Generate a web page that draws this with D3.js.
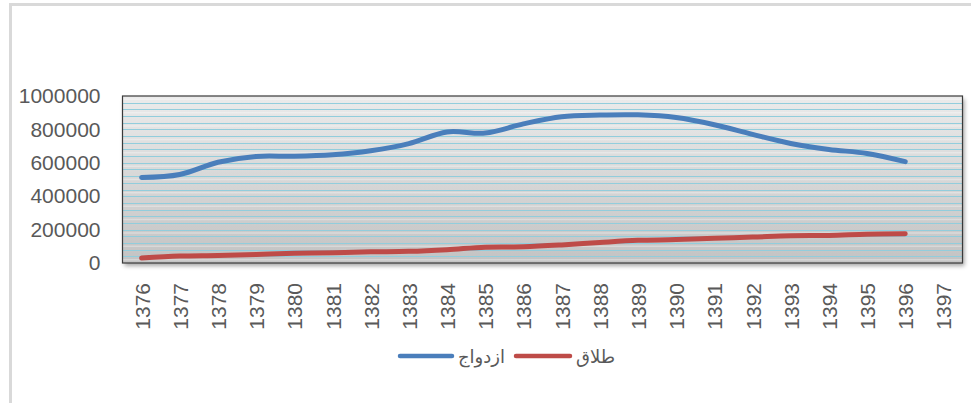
<!DOCTYPE html>
<html>
<head>
<meta charset="utf-8">
<script src="https://cdn.jsdelivr.net/npm/d3@7"></script>
<style>
  body { margin: 0; background: #fff; }
  svg text { font-family: "Liberation Sans", "DejaVu Sans", sans-serif; fill: #595959; }
</style>
</head>
<body>
<div id="chart"></div>
<script>
// chart data
const years = ["1376","1377","1378","1379","1380","1381","1382","1383","1384","1385","1386",
               "1387","1388","1389","1390","1391","1392","1393","1394","1395","1396","1397"];
const marriage = [512000, 530000, 603000, 638000, 639000, 648000, 672000, 715000, 785000, 778000, 833000,
                  876000, 886000, 887000, 871000, 828000, 770000, 716000, 680000, 656000, 607000];
const divorce = [30000, 42000, 45000, 51000, 58000, 62000, 67000, 70000, 80000, 95000, 97000,
                 108000, 123000, 136000, 140000, 148000, 155000, 163000, 165000, 172000, 175000];
const yTicks = [0, 200000, 400000, 600000, 800000, 1000000];
const legendLabels = ["ازدواج", "طلاق"];

const width = 971, height = 403;
const plot = { left: 122.5, right: 962.5, top: 96, bottom: 263 };
const blue = "#4a7ebb", red = "#be4b48";

const svg = d3.select("#chart")
  .append("svg")
  .attr("width", width)
  .attr("height", height);

// outer chart border
svg.append("rect")
  .attr("x", 10.5).attr("y", 4.5)
  .attr("width", 980).attr("height", 420)
  .style("fill", "none")
  .style("stroke", "#d9d9d9")
  .style("stroke-width", "3px");

const defs = svg.append("defs");
const grad = defs.append("linearGradient")
  .attr("id", "plotBg").attr("x1", 0).attr("y1", 0).attr("x2", 0).attr("y2", 1);
grad.append("stop").attr("offset", "0%").attr("stop-color", "#ebebeb");
grad.append("stop").attr("offset", "100%").attr("stop-color", "#c3c3c3");

const shadow = defs.append("filter").attr("id", "shadow")
  .attr("x", "-5%").attr("y", "-5%").attr("width", "110%").attr("height", "120%");
shadow.append("feDropShadow")
  .attr("dx", 2).attr("dy", 3).attr("stdDeviation", 2)
  .attr("flood-color", "#000").attr("flood-opacity", 0.35);

const x = d3.scalePoint()
  .domain(years)
  .range([plot.left, plot.right])
  .padding(0.5);

const y = d3.scaleLinear()
  .domain([0, 1000000])
  .range([plot.bottom, plot.top]);

// plot area
svg.append("rect")
  .attr("x", plot.left).attr("y", plot.top)
  .attr("width", plot.right - plot.left)
  .attr("height", plot.bottom - plot.top)
  .style("fill", "url(#plotBg)")
  .attr("filter", "url(#shadow)");

// texture stripes + minor gridlines every 40000
const minor = d3.range(40000, 1000000, 40000);
svg.append("g")
  .selectAll("line")
  .data(d3.range(20000, 1000000, 80000))
  .join("line")
  .attr("x1", plot.left).attr("x2", plot.right)
  .attr("y1", d => y(d)).attr("y2", d => y(d))
  .style("stroke", "#fff")
  .style("stroke-opacity", 0.3)
  .style("stroke-width", "1.5px");

svg.append("g")
  .selectAll("line")
  .data(minor)
  .join("line")
  .attr("x1", plot.left).attr("x2", plot.right)
  .attr("y1", d => Math.round(y(d)) + 0.5).attr("y2", d => Math.round(y(d)) + 0.5)
  .style("stroke", "#92cddc")
  .style("stroke-width", "1.2px");

svg.append("rect")
  .attr("x", plot.left).attr("y", plot.top)
  .attr("width", plot.right - plot.left)
  .attr("height", plot.bottom - plot.top)
  .style("fill", "none")
  .style("stroke", "#3a3a3a")
  .style("stroke-width", "1.2px");

// y axis
const yAxis = d3.axisLeft(y)
  .tickValues(yTicks)
  .tickSize(0)
  .tickPadding(22)
  .tickFormat(d3.format("d"));
const ya = svg.append("g")
  .attr("transform", "translate(" + plot.left + ",0)")
  .call(yAxis);
ya.select(".domain").remove();
ya.selectAll("text")
  .style("font-size", "21px")
  .style("fill", "#595959");

// x axis
const xAxis = d3.axisBottom(x).tickSize(0);
const xa = svg.append("g")
  .attr("transform", "translate(0," + plot.bottom + ")")
  .call(xAxis);
xa.select(".domain").remove();
xa.selectAll("text")
  .style("font-size", "21px")
  .style("fill", "#595959")
  .attr("text-anchor", "end")
  .attr("transform", "rotate(-90)")
  .attr("x", -20)
  .attr("y", 0)
  .attr("dy", "0.36em");

// series
const line = d3.line()
  .x((d, i) => x(years[i]))
  .y(d => y(d))
  .curve(d3.curveCatmullRom.alpha(0.5));

svg.append("path")
  .datum(divorce)
  .attr("d", line)
  .style("fill", "none")
  .style("stroke", red)
  .style("stroke-width", "5px")
  .style("stroke-linecap", "round")
  .style("stroke-linejoin", "round");

svg.append("path")
  .datum(marriage)
  .attr("d", line)
  .style("fill", "none")
  .style("stroke", blue)
  .style("stroke-width", "5px")
  .style("stroke-linecap", "round")
  .style("stroke-linejoin", "round");

// legend
const legend = svg.append("g");
const items = [
  { label: legendLabels[0], color: blue, x1: 400, x2: 452, tx: 458 },
  { label: legendLabels[1], color: red, x1: 516, x2: 570, tx: 576 }
];
items.forEach(it => {
  legend.append("line")
    .attr("x1", it.x1).attr("x2", it.x2)
    .attr("y1", 356).attr("y2", 356)
    .style("stroke", it.color)
    .style("stroke-width", "4.5px")
    .style("stroke-linecap", "round");
  legend.append("text")
    .attr("x", it.tx).attr("y", 363)
    .style("font-family", "'DejaVu Sans', sans-serif")
    .style("font-size", "18px")
    .style("fill", "#595959")
    .text(it.label);
});
</script>
</body>
</html>
